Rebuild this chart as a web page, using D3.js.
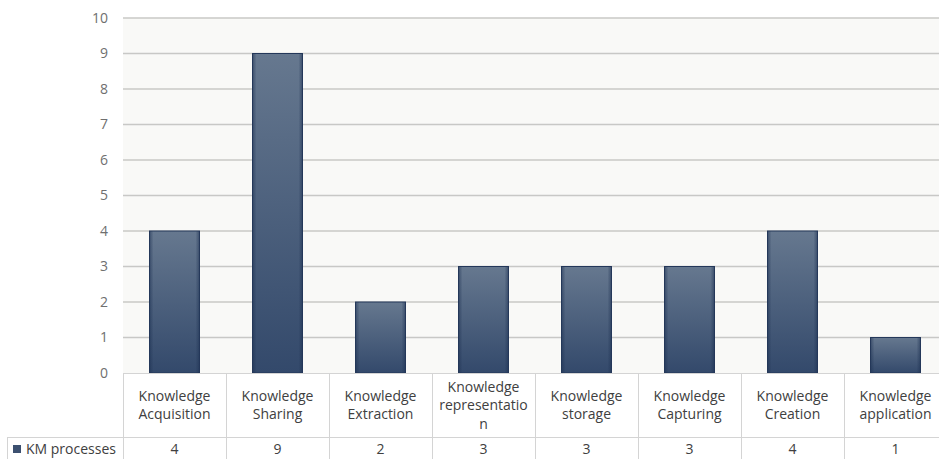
<!DOCTYPE html>
<html><head><meta charset="utf-8">
<script src="https://cdn.jsdelivr.net/npm/d3@7"></script>
<style>
html,body{margin:0;padding:0;background:#fff;}
svg{display:block;}
text{font-family:"Open Sans",sans-serif;}
</style></head>
<body>
<svg id="chart" width="939" height="459"></svg>
<script>
const categories = ["Knowledge Acquisition","Knowledge Sharing","Knowledge Extraction","Knowledge representation","Knowledge storage","Knowledge Capturing","Knowledge Creation","Knowledge application"];
const categoryLabelLines = [["Knowledge","Acquisition"],["Knowledge","Sharing"],["Knowledge","Extraction"],["Knowledge","representatio","n"],["Knowledge","storage"],["Knowledge","Capturing"],["Knowledge","Creation"],["Knowledge","application"]];
const seriesName = "KM processes";
const values = [4, 9, 2, 3, 3, 3, 4, 1];
const yTicks = [0,1,2,3,4,5,6,7,8,9,10];

(function(){
const svg = d3.select("#chart");
const plotL = 123, plotR = 947, plotT = 18, plotB = 373;
const catRowBottom = 437, valRowBottom = 459;

const x = d3.scaleBand().domain(categories).range([plotL, plotR]).paddingInner(0.515).paddingOuter(0.2575);
const xCol = d3.scaleBand().domain(categories).range([plotL, plotR]);
const y = d3.scaleLinear().domain([0, 10]).range([plotB, plotT]);

const defs = svg.append("defs");
const grad = defs.append("linearGradient").attr("id","barGrad").attr("x1",0).attr("y1",0).attr("x2",0).attr("y2",1);
grad.append("stop").attr("offset","0%").attr("stop-color","#66788f");
grad.append("stop").attr("offset","100%").attr("stop-color","#33496b");
const hgrad = defs.append("linearGradient").attr("id","barEdge").attr("x1",0).attr("y1",0).attr("x2",1).attr("y2",0);
hgrad.append("stop").attr("offset","0%").attr("stop-color","#1e3152").attr("stop-opacity",0.55);
hgrad.append("stop").attr("offset","8%").attr("stop-color","#1e3152").attr("stop-opacity",0);
hgrad.append("stop").attr("offset","92%").attr("stop-color","#1e3152").attr("stop-opacity",0);
hgrad.append("stop").attr("offset","100%").attr("stop-color","#1e3152").attr("stop-opacity",0.55);

svg.append("rect").attr("x", plotL).attr("y", plotT).attr("width", plotR - plotL).attr("height", plotB - plotT).attr("fill", "#f9f9f7");

svg.append("g").selectAll("line").data(yTicks.filter(d => d > 0)).join("line")
  .attr("x1", plotL).attr("x2", plotR)
  .attr("y1", d => y(d)).attr("y2", d => y(d))
  .attr("stroke", "#c8c8c6").attr("stroke-width", 1.5);

const yAxis = d3.axisLeft(y).tickValues(yTicks).tickSize(0).tickPadding(15).tickFormat(d3.format("d"));
const yg = svg.append("g").attr("transform", `translate(${plotL},0)`).call(yAxis);
yg.select(".domain").remove();
yg.selectAll("text").attr("fill", "#6f6f6f").style("font-size", "14px").style("font-family", '"Open Sans",sans-serif');

const bars = svg.append("g");
bars.selectAll("rect.bar").data(values).join("rect").attr("class","bar")
  .attr("x", (d,i) => x(categories[i]))
  .attr("y", d => y(d))
  .attr("width", x.bandwidth())
  .attr("height", d => y(0) - y(d))
  .attr("fill", "url(#barGrad)")
  .attr("stroke", "#24385a").attr("stroke-width", 1);
bars.selectAll("rect.edge").data(values).join("rect").attr("class","edge")
  .attr("x", (d,i) => x(categories[i]))
  .attr("y", d => y(d))
  .attr("width", x.bandwidth())
  .attr("height", d => y(0) - y(d))
  .attr("fill", "url(#barEdge)");

const tbl = svg.append("g");
const lineColor = "#d4d4d4";
tbl.append("line").attr("x1", plotL).attr("x2", plotR).attr("y1", plotB+0.5).attr("y2", plotB+0.5).attr("stroke", lineColor);
tbl.append("line").attr("x1", 7).attr("x2", plotR).attr("y1", catRowBottom+0.5).attr("y2", catRowBottom+0.5).attr("stroke", lineColor);
tbl.append("line").attr("x1", 7.5).attr("x2", 7.5).attr("y1", catRowBottom).attr("y2", valRowBottom).attr("stroke", lineColor);
tbl.selectAll("line.col").data(categories).join("line").attr("class","col")
  .attr("x1", d => Math.round(xCol(d)) + 0.5).attr("x2", d => Math.round(xCol(d)) + 0.5)
  .attr("y1", plotB).attr("y2", valRowBottom).attr("stroke", lineColor);

const lineH = 18.5;
tbl.selectAll("text.cat").data(categories).join("text").attr("class","cat")
  .attr("text-anchor","middle")
  .attr("fill","#404040").style("font-size","14px")
  .each(function(d, i) {
    const lines = categoryLabelLines[i];
    const cx = xCol(d) + xCol.bandwidth()/2;
    const midY = (plotB + catRowBottom)/2;
    const startY = midY - (lines.length - 1) * lineH / 2 + 5;
    d3.select(this).selectAll("tspan").data(lines).join("tspan")
      .attr("x", cx).attr("y", (l, k) => startY + k * lineH).text(l => l);
  });

tbl.selectAll("text.val").data(values).join("text").attr("class","val")
  .attr("x", (d,i) => xCol(categories[i]) + xCol.bandwidth()/2)
  .attr("y", 454).attr("text-anchor","middle")
  .attr("fill","#404040").style("font-size","14px")
  .text(d => d);

tbl.append("rect").attr("x", 13).attr("y", 445).attr("width", 8).attr("height", 8).attr("fill", "#3c5070");
tbl.append("text").attr("x", 26).attr("y", 454).attr("fill","#404040").style("font-size","14px").text(seriesName);
})();
</script>
</body></html>
